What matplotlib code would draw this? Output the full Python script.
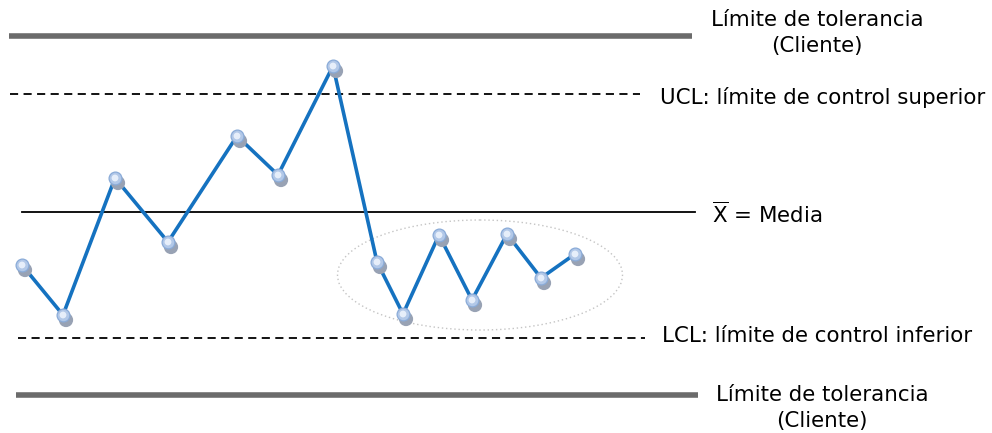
import matplotlib
matplotlib.use("Agg")
import matplotlib.pyplot as plt
from matplotlib.patches import Ellipse
import matplotlib.transforms as mtransforms

# Data (in pixel-like chart units; y grows downward)
sample_x = [22, 63, 115, 168, 237, 278, 333, 377, 403, 439, 472, 507, 541, 575]
sample_y = [265, 315, 178, 242, 136, 175, 66, 262, 314, 235, 300, 234, 278, 254]

tol_upper = 36
ucl = 94
mean = 212
lcl = 338
tol_lower = 395

lbl_tol = "Límite de tolerancia\n(Cliente)"
lbl_ucl = "UCL: límite de control superior"
lbl_mean = r"$\overline{\mathrm{X}}$ = Media"
lbl_lcl = "LCL: límite de control inferior"

plt.rcParams['font.family'] = ['DejaVu Sans']
plt.rcParams['mathtext.fontset'] = 'dejavusans'
fig = plt.figure(figsize=(9.92, 4.33), dpi=100)
ax = fig.add_axes([0, 0, 1, 1])
ax.set_xlim(0, 992)
ax.set_ylim(433, 0)
ax.axis('off')

# Reference lines
ax.plot([9, 692], [tol_upper, tol_upper], color='#6b6b6b', lw=4.0, solid_capstyle='butt')
ax.plot([10, 640], [ucl, ucl], color='black', lw=1.3, ls=(0, (4.5, 3)))
ax.plot([22, 695], [mean, mean], color='black', lw=1.3)
ax.plot([18, 645], [lcl, lcl], color='black', lw=1.3, ls=(0, (4.5, 3)))
ax.plot([16, 698], [tol_lower, tol_lower], color='#6b6b6b', lw=4.0, solid_capstyle='butt')

# Ellipse around run
ax.add_patch(Ellipse((480, 275), 285, 110, fill=False, ec='#c4c4c4', lw=1.0, ls=(0, (1, 2))))

# Series line
ax.plot(sample_x, sample_y, color='#1572c0', lw=2.6, zorder=3)

# Marker shadows
shadow_tr = mtransforms.offset_copy(ax.transData, fig=fig, x=3, y=-5, units='dots')
ax.scatter(sample_x, sample_y, s=105, color='#98a2b4', edgecolors='none', transform=shadow_tr, zorder=4)
ax.scatter(sample_x, sample_y, s=85, color='#b2c8e8', edgecolors='#8aabd8', linewidths=0.9, zorder=5)
ax.scatter(sample_x, sample_y, s=24, color='#e6eefa', edgecolors='none', zorder=6)

# Labels
fs = 15.4
ax.text(817, 33, lbl_tol, ha='center', va='center', fontsize=fs, linespacing=1.36)
ax.text(660, 97, lbl_ucl, ha='left', va='center', fontsize=fs)
ax.text(712, 214, lbl_mean, ha='left', va='center', fontsize=fs)
ax.text(662, 336, lbl_lcl, ha='left', va='center', fontsize=fs)
ax.text(822, 408, lbl_tol, ha='center', va='center', fontsize=fs, linespacing=1.36)

fig.savefig('out.png', dpi=100)
